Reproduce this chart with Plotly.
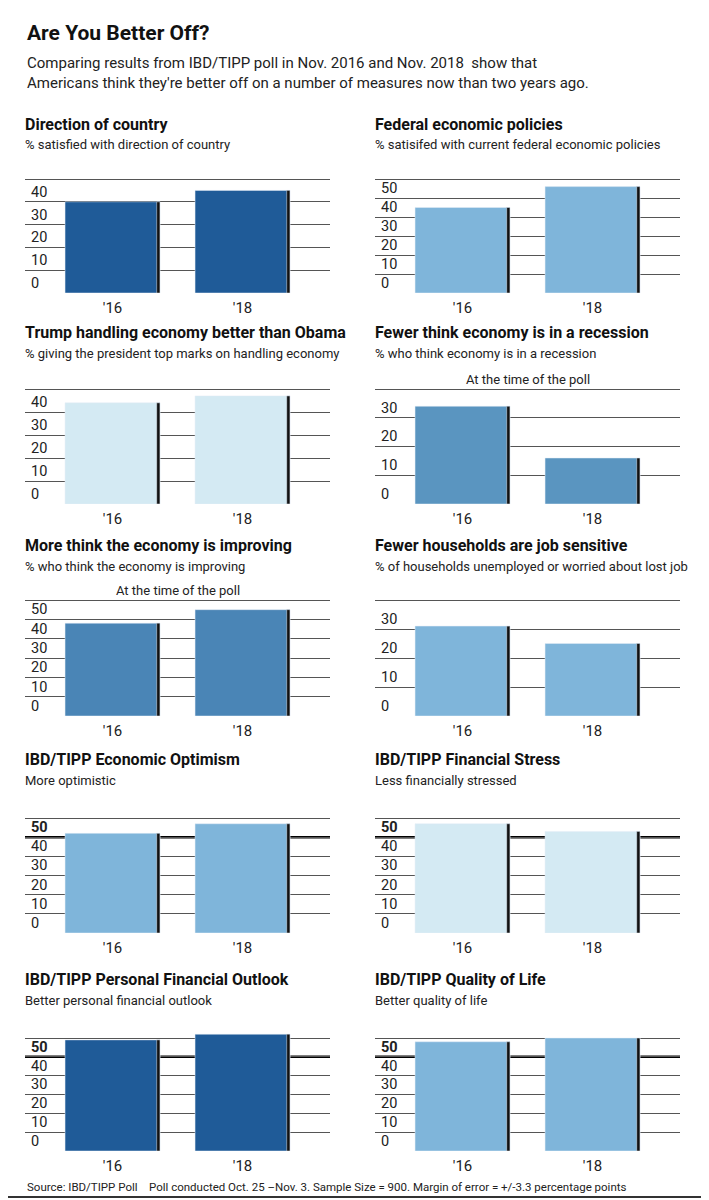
import plotly.graph_objects as go

W, H = 709, 1200
OFF = 8  # page body margin
FW, FH = W - OFF, H - OFF

years = ["'16", "'18"]
titles = [
    "Direction of country", "Federal economic policies",
    "Trump handling economy better than Obama", "Fewer think economy is in a recession",
    "More think the economy is improving", "Fewer households are job sensitive",
    "IBD/TIPP Economic Optimism", "IBD/TIPP Financial Stress",
    "IBD/TIPP Personal Financial Outlook", "IBD/TIPP Quality of Life",
]
subtitles = [
    "% satisfied with direction of country", "% satisifed with current federal economic policies",
    "% giving the president top marks on handling economy", "% who think economy is in a recession",
    "% who think the economy is improving", "% of households unemployed or worried about lost job",
    "More optimistic", "Less financially stressed",
    "Better personal financial outlook", "Better quality of life",
]
values = [
    [40, 45], [45, 56],
    [44, 47], [34, 16],
    [48, 55], [31, 25],
    [52, 57], [57, 53],
    [59, 62], [58, 60],
]
y_max = [50, 60, 50, 40, 60, 40, 60, 60, 60, 60]
pct_axis = [True, True, True, True, True, True, False, False, False, False]
notes = [None, None, None, "At the time of the poll", "At the time of the poll", None, None, None, None, None]
colors = ["#1f5b98", "#7fb5da", "#d4eaf3", "#5a95c0", "#4a85b6", "#7fb5da",
          "#7fb5da", "#d4eaf3", "#1f5b98", "#7fb5da"]

# pixel layout of the panels (grid top / zero line)
row_px = [(179, 293), (389, 504), (600, 716), (818, 933), (1038, 1151)]
col_px = [(25, 330), (375, 680)]
title_px = [(124, 145), (332, 354), (545, 566), (759, 780), (979, 1000)]
EXTRA = 18  # headroom above top gridline for its label

def xp(v):
    return (v - OFF) / FW

def yp(v):
    return 1 - (v - OFF) / FH

fig = go.Figure()
annotations = []
shapes = []
BW = 0.73
EW = 0.025

for i in range(10):
    r, c = divmod(i, 2)
    n = "" if i == 0 else str(i + 1)
    xa, ya = "x" + n, "y" + n
    fig.add_trace(go.Bar(x=years, y=values[i], marker_color=colors[i], width=BW,
                         offset=-BW / 2, xaxis=xa, yaxis=ya, showlegend=False))
    fig.add_trace(go.Bar(x=years, y=values[i], marker_color="#111111", width=EW,
                         offset=BW / 2 - EW, xaxis=xa, yaxis=ya, showlegend=False))
    tv = list(range(0, y_max[i] + 1, 10))
    if pct_axis[i]:
        tt = [str(v) for v in tv[:-1]] + [f"{tv[-1]}%"]
    else:
        tt = [f"<b>{v}</b>" if v == 50 else str(v) for v in tv]
    x0, x1 = col_px[c]
    g0, g1 = row_px[r]
    ppu = (g1 - g0) / y_max[i]
    top = y_max[i] + EXTRA / ppu
    fig.layout["xaxis" + n] = dict(domain=[xp(x0), xp(x1)], anchor=ya, range=[-0.673, 1.673],
                                   showgrid=False, zeroline=False, showline=False, ticks="",
                                   tickfont=dict(size=15, color="#222"), ticklabelstandoff=4,
                                   fixedrange=True)
    fig.layout["yaxis" + n] = dict(domain=[yp(g1), yp(g0 - EXTRA)], anchor=xa, range=[0, top],
                                   tickvals=tv, ticktext=tt, ticklabelposition="inside top",
                                   showgrid=True, gridcolor="#555", gridwidth=1, zeroline=False,
                                   showline=False, tickfont=dict(size=14.5, color="#222"),
                                   ticklabelstandoff=3, fixedrange=True)
    if not pct_axis[i]:
        shapes.append(dict(type="line", xref=xa + " domain", yref=ya, x0=0, x1=1, y0=50, y1=50,
                           line=dict(color="#000", width=2.5), layer="below"))
    ty, sy = title_px[r]
    annotations.append(dict(text=f"<b>{titles[i]}</b>", x=xp(x0 - 2), y=yp(ty), xref="paper", yref="paper",
                            xanchor="left", yanchor="middle", showarrow=False,
                            font=dict(size=16, color="#111", family="Roboto")))
    annotations.append(dict(text=subtitles[i], x=xp(x0 - 2), y=yp(sy), xref="paper", yref="paper",
                            xanchor="left", yanchor="middle", showarrow=False,
                            font=dict(size=13, color="#222", family="Roboto")))
    if notes[i]:
        annotations.append(dict(text=notes[i], x=0.5, y=y_max[i], xref=xa + " domain", yref=ya,
                                xanchor="center", yanchor="bottom", showarrow=False, yshift=0,
                                font=dict(size=13, color="#222", family="Roboto")))

annotations += [
    dict(text="<b>Are You Better Off?</b>", x=xp(25), y=yp(33), xref="paper", yref="paper",
         xanchor="left", yanchor="middle", showarrow=False, font=dict(size=21, color="#111")),
    dict(text="Comparing results from IBD/TIPP poll in Nov. 2016 and Nov. 2018  show that<br>"
              "Americans think they're better off on a number of measures now than two years ago.",
         x=xp(25), y=yp(73), xref="paper", yref="paper", xanchor="left", yanchor="middle",
         align="left", showarrow=False, font=dict(size=15, color="#222")),
    dict(text="Source: IBD/TIPP Poll    Poll conducted Oct. 25 \u2013Nov. 3. Sample Size = 900. "
              "Margin of error = +/-3.3 percentage points",
         x=xp(25), y=yp(1187), xref="paper", yref="paper", xanchor="left", yanchor="middle",
         showarrow=False, font=dict(size=11.5, color="#222")),
]
shapes.append(dict(type="rect", xref="paper", yref="paper", x0=xp(3), x1=xp(706), y0=yp(1197), y1=yp(3),
                   line=dict(color="#333", width=2), fillcolor="rgba(0,0,0,0)", layer="below"))

fig.update_layout(width=FW, height=FH, margin=dict(l=0, r=0, t=0, b=0), barmode="overlay",
                  plot_bgcolor="white", paper_bgcolor="white", annotations=annotations, shapes=shapes,
                  font=dict(family="Roboto", color="#222"))

fig.write_html("out.html")
